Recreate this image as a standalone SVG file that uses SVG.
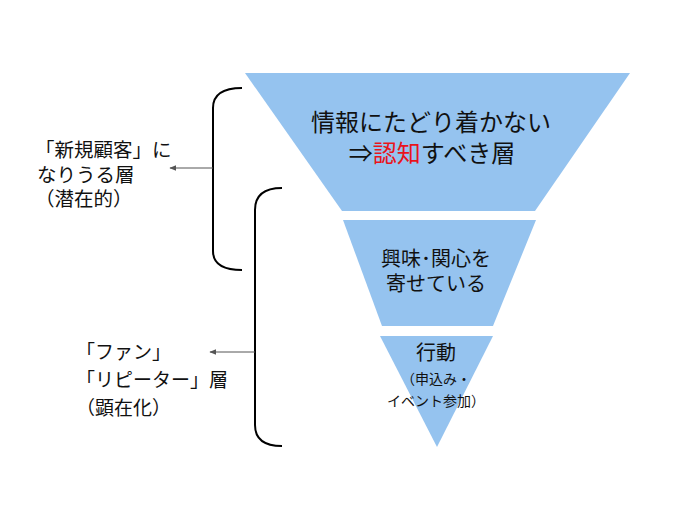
<svg xmlns="http://www.w3.org/2000/svg" width="690" height="518" viewBox="0 0 690 518">
<style>
.layer{fill:#95C3EF;stroke:none}
text{font-family:"Noto Sans CJK JP","Noto Sans",sans-serif;fill:#111}
.c{text-anchor:middle}
.br{fill:none;stroke:#000;stroke-width:2}
.ar{fill:none;stroke:#555;stroke-width:1;marker-end:url(#ah)}
</style>
<defs>
<marker id="ah" viewBox="0 0 10 10" refX="9" refY="5" markerWidth="7" markerHeight="7" orient="auto" markerUnits="userSpaceOnUse">
<path d="M0,1 L10,5 L0,9 z" fill="#555"/>
</marker>
</defs>
<rect width="690" height="518" fill="#fff"/>
<g id="layer1">
<polygon class="layer" points="245,73 630,73 535,211 342,211"/>
<text class="c" x="431" y="131" font-size="24">情報にたどり着かない</text>
<text class="c" x="432" y="162" font-size="24">⇒<tspan fill="#E8141B">認知</tspan>すべき層</text>
</g>
<g id="layer2">
<polygon class="layer" points="343,220 536,220 493,326 382,326"/>
<text class="c" x="436" y="266" font-size="20">興味･関心を</text>
<text class="c" x="436" y="291" font-size="20">寄せている</text>
</g>
<g id="layer3">
<polygon class="layer" points="380,336 493,336 437,447"/>
<text class="c" x="436" y="360" font-size="20">行動</text>
<text class="c" x="436" y="384" font-size="14">（申込み・</text>
<text class="c" x="436" y="406" font-size="14">イベント参加）</text>
</g>
<g id="label-potential">
<text x="35" y="157" font-size="19.5">「新規顧客」に</text>
<text x="37" y="182" font-size="19.5">なりうる層</text>
<text x="35" y="206" font-size="19.5">（潜在的）</text>
</g>
<g id="label-manifest">
<text x="76" y="359" font-size="19">「ファン」</text>
<text x="76" y="387" font-size="19">「リピーター」層</text>
<text x="76" y="415" font-size="19">（顕在化）</text>
</g>
<g id="connectors">
<path class="br" d="M242,88 Q213,88 213,108 L213,251 Q213,270 242,270"/>
<path class="br" d="M282,188 Q255,188 255,210 L255,425 Q255,446 282,446"/>
<path class="ar" d="M213,168 L170,168"/>
<path class="ar" d="M255,352 L210,352"/>
</g>
</svg>
